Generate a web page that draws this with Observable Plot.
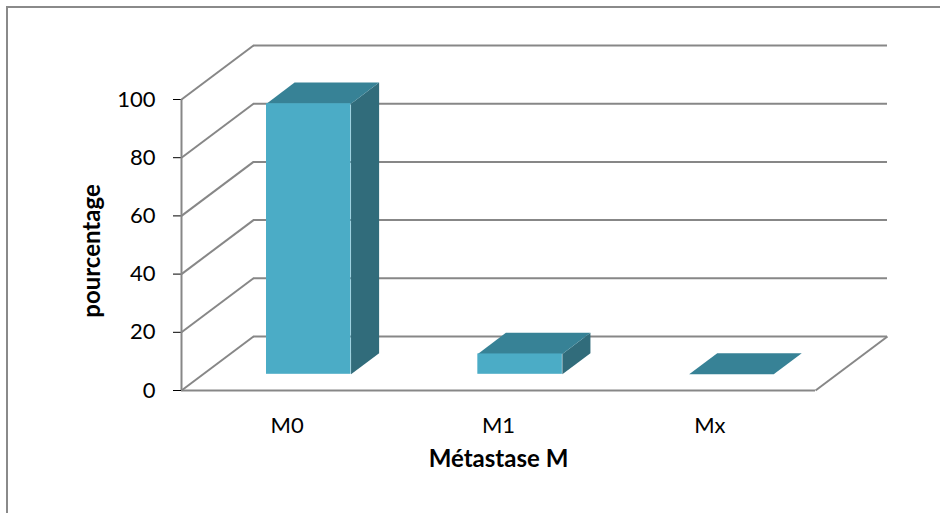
<!DOCTYPE html>
<html>
<head>
<meta charset="utf-8">
<script src="https://cdn.jsdelivr.net/npm/d3@7"></script>
<script src="https://cdn.jsdelivr.net/npm/@observablehq/plot@0.6"></script>
<style>
  html, body { margin: 0; padding: 0; background: #fff; overflow: hidden; }
  #wrap { position: relative; width: 940px; height: 513px; overflow: hidden; }
  #border { position: absolute; left: 6px; top: 6px; width: 1000px; height: 600px;
            border-left: 2px solid #8a8a8a; border-top: 2px solid #8a8a8a; }
  #chart { position: absolute; left: 0; top: 0; }
  #chart svg { overflow: visible; }
</style>
</head>
<body>
<div id="wrap"><div id="border"></div><div id="chart"></div></div>
<script>
// Répartition des patients selon la métastase M (pourcentage)
const categories = ["M0", "M1", "Mx"];
const values = [93, 7, 0];
const yTicks = [0, 20, 40, 60, 80, 100];

const W = 940, H = 513;
const mLeft = 181, mRight = 125, mTop = 99, mBottom = 123;
const xDomain = [0, categories.length];
const yDomain = [0, 100];

// Oblique depth vector of the 3D box, in pixels
const depthPx = [72, -54];
// Same vector expressed in data units of the x and y scales
const DX = depthPx[0] * (xDomain[1] - xDomain[0]) / (W - mLeft - mRight);
const DY = -depthPx[1] * (yDomain[1] - yDomain[0]) / (H - mTop - mBottom);
const proj = (x, y, t) => ({x: x + t * DX, y: y + t * DY});

// Bars occupy part of each band and a slab of the depth
const barLo = 0.3, barHi = 0.7;
const t1 = 0.3, t2 = 0.69;

const bars = categories.map((c, i) => ({cat: c, i, v: values[i]}));

const faces = [];
bars.forEach(b => {
  const a = b.i + barLo, z = b.i + barHi;
  const side = [proj(z, 0, t1), proj(z, b.v, t1), proj(z, b.v, t2), proj(z, 0, t2)];
  const top = [proj(a, b.v, t1), proj(z, b.v, t1), proj(z, b.v, t2), proj(a, b.v, t2)];
  side.forEach(p => faces.push({key: b.cat + "-side", face: "side", ...p}));
  top.forEach(p => faces.push({key: b.cat + "-top", face: "top", ...p}));
});

const grid = "#878787";
const font = "Lato, 'Open Sans', sans-serif";

const plot = Plot.plot({
  width: W,
  height: H,
  marginLeft: mLeft,
  marginRight: mRight,
  marginTop: mTop,
  marginBottom: mBottom,
  style: {fontFamily: font, fontSize: "22px", color: "#000", background: "transparent"},
  x: {domain: xDomain, axis: null},
  y: {domain: yDomain, ticks: yTicks, tickSize: 8, tickPadding: 18, label: null, tickFormat: d => d},
  color: {domain: ["side", "top"], range: ["#316c7b", "#378296"]},
  marks: [
    // back wall
    Plot.ruleY(yTicks, {dx: depthPx[0], dy: depthPx[1], stroke: grid, strokeWidth: 2, strokeOpacity: 1}),
    // left wall diagonals
    Plot.link(yTicks, {x1: () => 0, y1: d => d, x2: () => DX, y2: d => d + DY,
      stroke: grid, strokeWidth: 2, strokeOpacity: 1}),
    // floor: front edge, right edge
    Plot.ruleY([0], {stroke: grid, strokeWidth: 2, strokeOpacity: 1}),
    Plot.link([0], {x1: () => xDomain[1], y1: () => 0, x2: () => xDomain[1] + DX, y2: () => DY,
      stroke: grid, strokeWidth: 2, strokeOpacity: 1}),
    // front vertical axis line
    Plot.ruleX([0], {stroke: grid, strokeWidth: 2, strokeOpacity: 1}),
    // bar side and top faces
    Plot.line(faces, {x: "x", y: "y", z: "key", fill: "face", stroke: "none"}),
    // bar front faces
    Plot.rect(bars, {x1: d => d.i + barLo, x2: d => d.i + barHi, y1: () => 0, y2: "v",
      dx: t1 * depthPx[0], dy: t1 * depthPx[1], fill: "#4bacc6"}),
    // category labels
    Plot.text(bars, {x: d => d.i + 0.5, y: () => 0, text: "cat", dy: 35, fontSize: 22}),
    // axis titles
    Plot.text(["Métastase M"], {frameAnchor: "bottom", text: d => d, dx: 0, dy: 76,
      fontWeight: "bold", fontSize: 24}),
    Plot.text(["pourcentage"], {frameAnchor: "left", text: d => d, rotate: -90, textAnchor: "middle",
      dx: -89, dy: 6, fontWeight: "bold", fontSize: 24})
  ]
});

document.getElementById("chart").appendChild(plot);
</script>
</body>
</html>
